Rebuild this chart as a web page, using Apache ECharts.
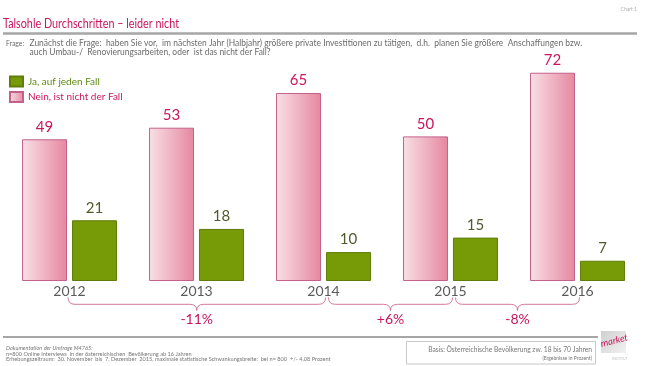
<!DOCTYPE html>
<html>
<head>
<meta charset="utf-8">
<script src="https://cdn.jsdelivr.net/npm/echarts@6/dist/echarts.min.js"></script>
<style>
html,body{margin:0;padding:0;background:#fff;}
#chart{width:650px;height:366px;}
</style>
</head>
<body>
<div id="chart"></div>
<script>
// ---- data ----
const categories = ['2012', '2013', '2014', '2015', '2016'];
const neinValues = [49, 53, 65, 50, 72];
const jaValues = [21, 18, 10, 15, 7];
const seriesNames = ['Ja, auf jeden Fall', 'Nein, ist nicht der Fall'];
const changeLabels = ['-11%', '+6%', '-8%'];
const changeFrom = ['2012', '2014', '2015'];
const changeTo = ['2014', '2015', '2016'];
const titleText = 'Talsohle Durchschritten – leider nicht';
const questionLines = [
  'Zunächst die Frage:  haben Sie vor,  im nächsten Jahr (Halbjahr) größere private Investitionen zu tätigen,  d.h.  planen Sie größere  Anschaffungen bzw.',
  'auch Umbau-/  Renovierungsarbeiten, oder  ist das nicht der Fall?'
];
const footerLines = [
  'Dokumentation der Umfrage M4765:',
  'n=800 Online Interviews  in der österreichischen  Bevölkerung ab 16 Jahren',
  'Erhebungszeitraum:  30. November  bis  7. Dezember  2015, maximale statistische Schwankungsbreite:  bei n= 800  +/- 4,08 Prozent'
];
const basisLines = ['Basis: Österreichische Bevölkerung zw. 18 bis 70 Jahren', '(Ergebnisse in Prozent)'];

const FONT = 'Lato, "Open Sans", sans-serif';
const CRIMSON = '#c8175d';
const GREEN = '#779a07';

const pinkFill = new echarts.graphic.LinearGradient(0, 0, 1, 0, [
  { offset: 0, color: '#f9e0e6' },
  { offset: 1, color: '#e5879f' }
]);

const chart = echarts.init(document.getElementById('chart'), null, { renderer: 'canvas' });

const staticGraphics = [
  { type: 'text', style: { text: 'Chart 1', x: 637, y: 9.5, align: 'right', verticalAlign: 'middle', fontSize: 5, fontFamily: FONT, fill: '#aaaaaa' } },
  { type: 'text', x: 3, y: 23.5, scaleX: 0.8, style: { text: titleText, x: 0, y: 0, verticalAlign: 'middle', fontSize: 13.5, fontFamily: FONT, fill: CRIMSON } },
  { type: 'rect', shape: { x: 3, y: 32.3, width: 634, height: 2.4 }, style: { fill: '#a6a6a6' } },
  { type: 'text', x: 6, y: 43.5, scaleX: 0.85, style: { text: 'Frage:', x: 0, y: 0, verticalAlign: 'middle', fontSize: 8, fontFamily: FONT, fill: '#6b6b6b' } },
  { type: 'text', x: 29.5, y: 43.5, scaleX: 0.92, style: { text: questionLines[0], x: 0, y: 0, verticalAlign: 'middle', fontSize: 9.2, fontFamily: FONT, fill: '#6b6b6b' } },
  { type: 'text', x: 29.5, y: 51.8, scaleX: 0.92, style: { text: questionLines[1], x: 0, y: 0, verticalAlign: 'middle', fontSize: 9.2, fontFamily: FONT, fill: '#6b6b6b' } },
  { type: 'rect', shape: { x: 3, y: 336, width: 595, height: 2 }, style: { fill: '#a6a6a6' } },
  { type: 'text', style: { text: footerLines[0], x: 6, y: 348.3, verticalAlign: 'middle', fontSize: 5.6, fontStyle: 'italic', fontFamily: FONT, fill: '#777777' } },
  { type: 'text', style: { text: footerLines[1], x: 6, y: 353.9, verticalAlign: 'middle', fontSize: 5.6, fontFamily: FONT, fill: '#777777' } },
  { type: 'text', style: { text: footerLines[2], x: 6, y: 359.6, verticalAlign: 'middle', fontSize: 5.6, fontFamily: FONT, fill: '#777777' } },
  { type: 'rect', shape: { x: 406.5, y: 341.5, width: 189, height: 22.5 }, style: { fill: '#ffffff', stroke: '#c8c8c8', lineWidth: 1 } },
  { type: 'text', style: { text: basisLines[0], x: 592, y: 349.7, align: 'right', verticalAlign: 'middle', fontSize: 6.7, fontFamily: FONT, fill: '#777777' } },
  { type: 'text', style: { text: basisLines[1], x: 592, y: 358.3, align: 'right', verticalAlign: 'middle', fontSize: 5, fontFamily: FONT, fill: '#777777' } },
  { type: 'rect', shape: { x: 601, y: 331, width: 25, height: 22 }, style: { fill: new echarts.graphic.LinearGradient(0, 0, 1, 1, [{ offset: 0, color: '#cfcfcf' }, { offset: 1, color: '#f2f2f2' }]) } },
  { type: 'text', rotation: 0.25, x: 602, y: 349, style: { text: 'market', x: 0, y: 0, verticalAlign: 'bottom', fontSize: 9.5, fontStyle: 'italic', fontFamily: FONT, fill: CRIMSON } },
  { type: 'text', style: { text: 'INSTITUT', x: 620, y: 358.5, align: 'center', verticalAlign: 'middle', fontSize: 3.5, fontFamily: FONT, fill: '#c0c0c0' } }
];

const option = {
  animation: false,
  backgroundColor: '#ffffff',
  textStyle: { fontFamily: FONT },
  legend: {
    orient: 'vertical',
    left: 9,
    top: 75.5,
    padding: 0,
    icon: 'rect',
    itemWidth: 13,
    itemHeight: 10,
    itemGap: 3.6,
    selectedMode: false,
    textStyle: { fontSize: 10, fontFamily: FONT },
    data: [
      { name: seriesNames[0], textStyle: { color: '#5f8a12' } },
      { name: seriesNames[1], textStyle: { color: CRIMSON } }
    ]
  },
  grid: { left: 6, right: 9, top: 49.6, bottom: 85, containLabel: false },
  xAxis: {
    type: 'category',
    data: categories,
    axisLine: { show: false },
    axisTick: { show: false },
    axisLabel: {
      margin: 3,
      fontSize: 14,
      color: '#5a5a5a',
      fontFamily: FONT,
      formatter: function (v, i) { return i >= 3 ? '{u|' + v + '}' : v; },
      rich: { u: { fontSize: 14, color: '#5a5a5a', fontFamily: FONT, padding: [0, 0, 5, 0] } }
    }
  },
  yAxis: {
    type: 'value',
    min: 0,
    max: 80,
    show: false,
    splitLine: { show: false }
  },
  series: [
    {
      name: seriesNames[1],
      type: 'bar',
      data: neinValues,
      barWidth: 45,
      barGap: '11%',
      itemStyle: { color: pinkFill, borderColor: '#c4618a', borderWidth: 1 },
      label: { show: true, position: 'top', distance: 5, fontSize: 15, color: CRIMSON, fontFamily: FONT }
    },
    {
      name: seriesNames[0],
      type: 'bar',
      data: jaValues,
      barWidth: 45,
      barGap: '11%',
      itemStyle: { color: GREEN, borderColor: '#5f7d08', borderWidth: 1 },
      label: { show: true, position: 'top', distance: 5, fontSize: 15, color: '#4f5a2c', fontFamily: FONT }
    }
  ],
  graphic: staticGraphics
};

chart.setOption(option);

// curly brackets, positioned from the category axis
const bracketGraphics = [];
const yTop = 297.5, yMid = 304.3, yTip = 310.5;
const bStyle = { fill: null, stroke: '#d27a98', lineWidth: 1 };
changeLabels.forEach((lab, i) => {
  let x1 = chart.convertToPixel({ xAxisIndex: 0 }, changeFrom[i]);
  let x2 = chart.convertToPixel({ xAxisIndex: 0 }, changeTo[i]);
  x1 = x1 + (i === 0 ? -1.5 : 5);
  x2 = x2 + 2;
  const xm = (x1 + x2) / 2;
  const r = 7;
  bracketGraphics.push(
    { type: 'bezierCurve', shape: { x1: x1, y1: yTop, cpx1: x1, cpy1: yMid, x2: x1 + r, y2: yMid }, style: bStyle },
    { type: 'line', shape: { x1: x1 + r, y1: yMid, x2: xm - r, y2: yMid }, style: bStyle },
    { type: 'bezierCurve', shape: { x1: xm - r, y1: yMid, cpx1: xm, cpy1: yMid, x2: xm, y2: yTip }, style: bStyle },
    { type: 'bezierCurve', shape: { x1: xm, y1: yTip, cpx1: xm, cpy1: yMid, x2: xm + r, y2: yMid }, style: bStyle },
    { type: 'line', shape: { x1: xm + r, y1: yMid, x2: x2 - r, y2: yMid }, style: bStyle },
    { type: 'bezierCurve', shape: { x1: x2 - r, y1: yMid, cpx1: x2, cpy1: yMid, x2: x2, y2: yTop }, style: bStyle },
    { type: 'text', style: { text: lab, x: xm, y: 319.5, align: 'center', verticalAlign: 'middle', fontSize: 14, fontFamily: FONT, fill: CRIMSON } }
  );
});

chart.setOption({ graphic: staticGraphics.concat(bracketGraphics) });
</script>
</body>
</html>
